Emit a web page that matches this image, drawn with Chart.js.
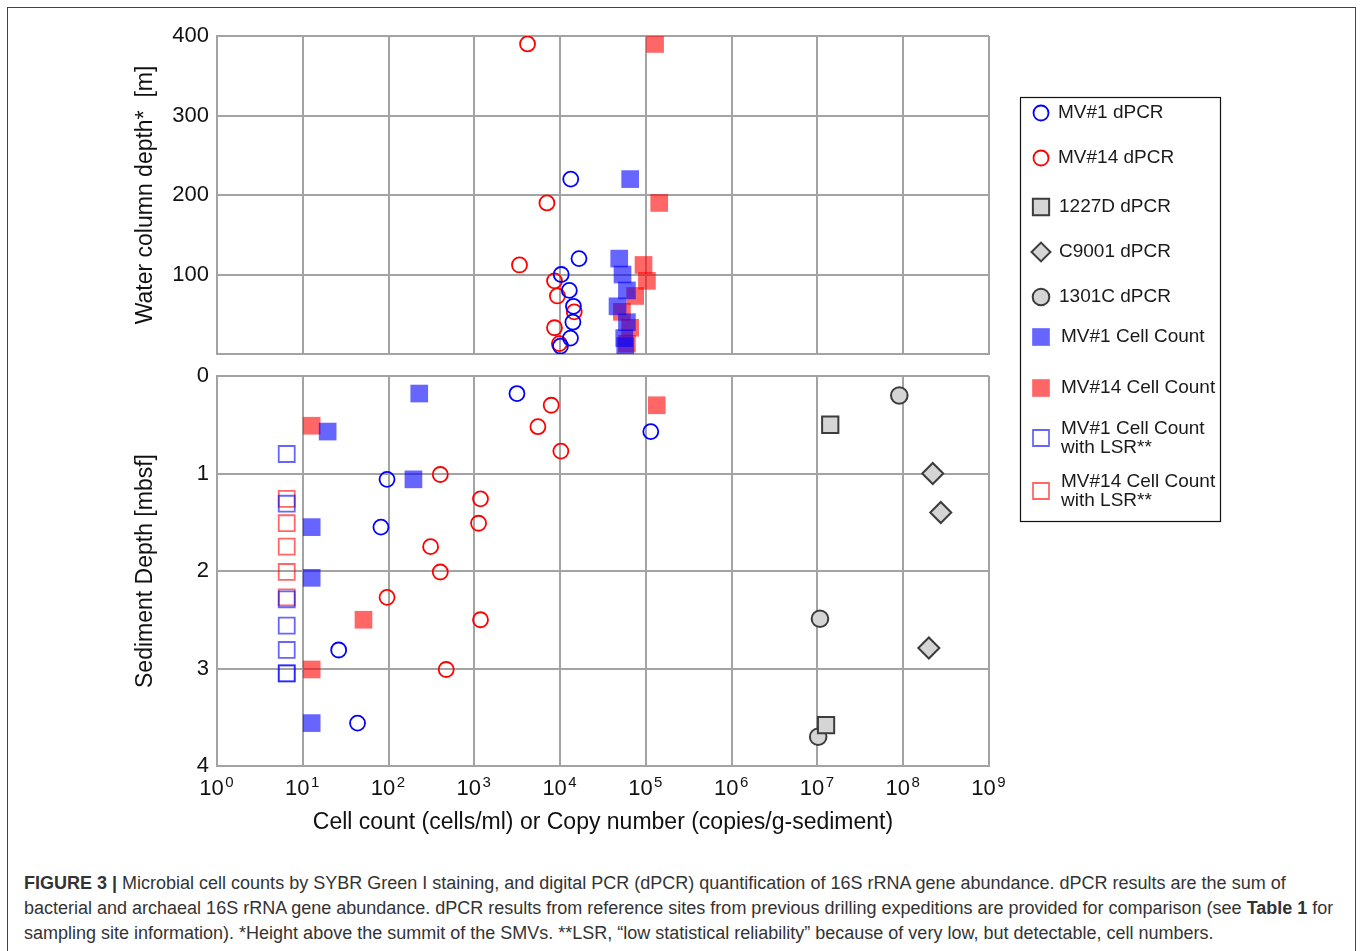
<!DOCTYPE html>
<html>
<head>
<meta charset="utf-8">
<script src="https://cdn.jsdelivr.net/npm/chart.js@4.4.1/dist/chart.umd.min.js"></script>
<style>
  body { margin: 0; background: #fff; width: 1360px; height: 951px; overflow: hidden; position: relative; font-family: "Liberation Sans", Arial, sans-serif; }
  #frame { position: absolute; left: 7px; top: 7px; width: 1349px; height: 1000px; border: 1px solid #444; box-sizing: border-box; }
  .wrap { position: absolute; left: 0; top: 0; width: 1360px; height: 860px; }
  #caption { position: absolute; left: 24px; top: 871px; font-family: "Liberation Sans", Arial, sans-serif; font-size: 18px; line-height: 25px; color: #333; white-space: nowrap; }
</style>
</head>
<body>
<div id="frame"></div>
<div class="wrap"><canvas id="waterChart"></canvas></div>
<div class="wrap"><canvas id="sedimentChart"></canvas></div>
<div id="caption">
<b>FIGURE 3 |</b> Microbial cell counts by SYBR Green I staining, and digital PCR (dPCR) quantification of 16S rRNA gene abundance. dPCR results are the sum of<br>
bacterial and archaeal 16S rRNA gene abundance. dPCR results from reference sites from previous drilling expeditions are provided for comparison (see <b>Table 1</b> for<br>
sampling site information). *Height above the summit of the SMVs. **LSR, “low statistical reliability” because of very low, but detectable, cell numbers.
</div>
<script>
// axis ticks
const xTicks = [1e0, 1e1, 1e2, 1e3, 1e4, 1e5, 1e6, 1e7, 1e8, 1e9];
const waterTicks = [0, 100, 200, 300, 400];
const sedimentTicks = [0, 1, 2, 3, 4];

// water column, depth in m (height above the summit)
const mv1WaterDepth = [220, 120, 100, 80, 60, 40, 20, 10];
const mv1WaterDpcr = [13300, 16600, 10300, 12800, 14300, 14100, 13200, 10100];
const mv1WaterCells = [65600, 48900, 53400, 60100, 46700, 60100, 55900, 57400];
const mv14WaterDepth = [390, 190, 112, 92, 73, 53, 33, 13];
const mv14WaterDpcr = [4170, 7020, 3360, 8600, 9300, 14600, 8600, 9800];
const mv14WaterCells = [128000, 143000, 93800, 102800, 75000, 52500, 65600, 60100];

// sediment, depth in mbsf
const mv1DpcrDepth = [0.18, 0.57, 1.06, 1.55, 2.81, 3.56];
const mv1Dpcr = [3140, 114000, 96, 81.5, 26.2, 43.5];
const mv14DpcrDepth = [0.30, 0.52, 0.77, 1.01, 1.26, 1.51, 1.75, 2.01, 2.27, 2.50, 3.01];
const mv14Dpcr = [7870, 5510, 10200, 401, 1180, 1120, 309, 401, 96, 1180, 470];
const site1227Depth = [0.50, 3.58];
const site1227Dpcr = [1.41e7, 1.26e7];
const siteC9001Depth = [1.00, 1.40, 2.79];
const siteC9001Dpcr = [2.21e8, 2.74e8, 1.99e8];
const site1301Depth = [0.20, 2.49, 3.70];
const site1301Dpcr = [9.0e7, 1.07e7, 1.02e7];
const mv1CellDepth = [0.18, 0.57, 1.06, 1.55, 2.07, 3.56];
const mv1Cells = [228, 19.5, 195, 12.7, 12.7, 12.7];
const mv14CellDepth = [0.30, 0.51, 2.50, 3.01];
const mv14Cells = [134000, 12.7, 51, 12.7];
const mv1LsrDepth = [0.80, 1.31, 2.29, 2.56, 2.81, 3.05, 3.05];
const mv1Lsr = [6.5, 6.5, 6.5, 6.5, 6.5, 6.5, 6.5];
const mv14LsrDepth = [1.26, 1.51, 1.75, 2.01, 2.27];
const mv14Lsr = [6.5, 6.5, 6.5, 6.5, 6.5];

const pts = (xs, ys) => xs.map((v, i) => ({ x: v, y: ys[i] }));

const gridColor = '#a3a3a3';
const fam = '"Liberation Sans", Arial, sans-serif';
const font = { family: fam, size: 22 };
const titleFont = { family: fam, size: 23 };

const styles = {
  mv1Dpcr: { label: 'MV#1 dPCR', pointStyle: 'circle', pointRadius: 7.5, borderWidth: 1.8, borderColor: '#0000ff', backgroundColor: 'rgba(0,0,0,0)' },
  mv14Dpcr: { label: 'MV#14 dPCR', pointStyle: 'circle', pointRadius: 7.5, borderWidth: 1.8, borderColor: '#ff0000', backgroundColor: 'rgba(0,0,0,0)' },
  s1227: { label: '1227D dPCR', pointStyle: 'rect', pointRadius: 11.5, borderWidth: 2, borderColor: '#3c3c3c', backgroundColor: '#d5d5d5' },
  c9001: { label: 'C9001 dPCR', pointStyle: 'rectRot', pointRadius: 10.5, borderWidth: 2, borderColor: '#3c3c3c', backgroundColor: '#d5d5d5' },
  s1301: { label: '1301C dPCR', pointStyle: 'circle', pointRadius: 8.3, borderWidth: 2, borderColor: '#3c3c3c', backgroundColor: '#d5d5d5' },
  mv1Cell: { label: 'MV#1 Cell Count', pointStyle: 'rect', pointRadius: 12.5, borderWidth: 0, borderColor: 'rgba(0,0,0,0)', backgroundColor: 'rgba(0,0,255,0.6)' },
  mv14Cell: { label: 'MV#14 Cell Count', pointStyle: 'rect', pointRadius: 12.5, borderWidth: 0, borderColor: 'rgba(0,0,0,0)', backgroundColor: 'rgba(255,0,0,0.6)' },
  mv1Lsr: { label: ['MV#1 Cell Count', 'with LSR**'], pointStyle: 'rect', pointRadius: 11.3, borderWidth: 1.8, borderColor: 'rgba(0,0,255,0.6)', backgroundColor: 'rgba(0,0,0,0)' },
  mv14Lsr: { label: ['MV#14 Cell Count', 'with LSR**'], pointStyle: 'rect', pointRadius: 11.3, borderWidth: 1.8, borderColor: 'rgba(255,0,0,0.6)', backgroundColor: 'rgba(0,0,0,0)' }
};

function ds(style, data) {
  return Object.assign({}, style, { data: data, pointHoverRadius: style.pointRadius });
}

// legend box on the right, drawn with Chart.js point helper
const legendRows = [113, 158, 207, 252, 297, 337, 388, 438, 491];
const boxLegend = {
  id: 'boxLegend',
  afterDraw(chart) {
    const ctx = chart.ctx;
    ctx.save();
    ctx.strokeStyle = '#111';
    ctx.lineWidth = 1.2;
    ctx.strokeRect(1020.5, 97.5, 200, 424);
    chart.data.datasets.forEach((d, i) => {
      const y = legendRows[i];
      const scale = d.pointStyle === 'rectRot' ? 0.9 : 1;
      ctx.fillStyle = d.backgroundColor;
      ctx.strokeStyle = d.borderColor;
      ctx.lineWidth = d.borderWidth;
      Chart.helpers.drawPoint(ctx, { pointStyle: d.pointStyle, radius: d.pointRadius * scale, rotation: 0, borderWidth: d.borderWidth }, 1041, y);
      ctx.fillStyle = '#1a1a1a';
      ctx.font = '19px ' + fam;
      ctx.textBaseline = 'middle';
      ctx.textAlign = 'left';
      const lines = Array.isArray(d.label) ? d.label : [d.label];
      const tx = i < 2 ? 1058 : (i < 5 ? 1059 : 1061);
      lines.forEach((t, k) => ctx.fillText(t, tx, y + (k - (lines.length - 1) / 2) * 19));
    });
    ctx.restore();
  }
};

// exponents for the "10" tick labels of the log axis
const baseLabel = '10\u2002';
const tickPadding = 10;
const powerLabels = {
  id: 'powerLabels',
  afterDraw(chart) {
    const sc = chart.scales.x;
    const ctx = chart.ctx;
    ctx.save();
    ctx.font = font.size + 'px ' + fam;
    const full = ctx.measureText(baseLabel).width;
    const ten = ctx.measureText('10').width;
    const yMid = sc.top + tickPadding + font.size * 1.2 / 2;
    ctx.font = '15px ' + fam;
    ctx.fillStyle = '#111';
    ctx.textAlign = 'left';
    ctx.textBaseline = 'middle';
    sc.ticks.forEach(t => {
      const px = sc.getPixelForValue(t.value);
      ctx.fillText(String(Math.round(Math.log10(t.value))), px - full / 2 + ten + 1.5, yMid - 6);
    });
    ctx.restore();
  }
};

function xScale(showTicks) {
  return {
    type: 'logarithmic',
    min: 1,
    max: 1e9,
    afterBuildTicks: s => { s.ticks = xTicks.map(v => ({ value: v })); },
    grid: { color: gridColor, lineWidth: 2, drawTicks: false },
    border: { color: gridColor, width: 2 },
    ticks: {
      display: showTicks,
      padding: tickPadding,
      maxRotation: 0,
      autoSkip: false,
      color: '#111',
      font: font,
      callback: () => baseLabel
    },
    title: {
      display: showTicks,
      text: 'Cell count (cells/ml) or Copy number (copies/g-sediment)',
      color: '#111',
      font: titleFont,
      padding: { top: 0, bottom: 0 }
    },
    afterFit: s => { s.height = showTicks ? 70 : 0; }
  };
}

function yScale(ticks, title, reverse) {
  return {
    min: ticks[0],
    max: ticks[ticks.length - 1],
    reverse: reverse,
    afterBuildTicks: s => { s.ticks = ticks.map(v => ({ value: v })); },
    grid: { color: gridColor, lineWidth: 2, drawTicks: false },
    border: { color: gridColor, width: 2 },
    ticks: {
      padding: 8,
      color: '#111',
      font: font,
      callback: v => (!reverse && v === 0) ? '' : String(v)
    },
    title: { display: true, text: title, color: '#111', font: titleFont, padding: { top: 132, bottom: 0 } },
    afterFit: s => { s.width = 217; }
  };
}

const common = {
  responsive: true,
  maintainAspectRatio: false,
  animation: false,
  events: [],
  plugins: { legend: { display: false }, tooltip: { enabled: false } }
};

new Chart(document.getElementById('waterChart').getContext('2d'), {
  type: 'scatter',
  data: {
    datasets: [
      ds(styles.mv1Dpcr, pts(mv1WaterDpcr, mv1WaterDepth)),
      ds(styles.mv14Dpcr, pts(mv14WaterDpcr, mv14WaterDepth)),
      ds(styles.mv1Cell, pts(mv1WaterCells, mv1WaterDepth)),
      ds(styles.mv14Cell, pts(mv14WaterCells, mv14WaterDepth))
    ]
  },
  options: Object.assign({}, common, {
    layout: { padding: { left: 0, right: 371, top: 36, bottom: 860 - 354 } },
    scales: {
      x: xScale(false),
      y: yScale(waterTicks, 'Water column depth*  [m]', false)
    }
  })
});

new Chart(document.getElementById('sedimentChart').getContext('2d'), {
  type: 'scatter',
  data: {
    datasets: [
      ds(styles.mv1Dpcr, pts(mv1Dpcr, mv1DpcrDepth)),
      ds(styles.mv14Dpcr, pts(mv14Dpcr, mv14DpcrDepth)),
      ds(styles.s1227, pts(site1227Dpcr, site1227Depth)),
      ds(styles.c9001, pts(siteC9001Dpcr, siteC9001Depth)),
      ds(styles.s1301, pts(site1301Dpcr, site1301Depth)),
      ds(styles.mv1Cell, pts(mv1Cells, mv1CellDepth)),
      ds(styles.mv14Cell, pts(mv14Cells, mv14CellDepth)),
      ds(styles.mv1Lsr, pts(mv1Lsr, mv1LsrDepth)),
      ds(styles.mv14Lsr, pts(mv14Lsr, mv14LsrDepth))
    ]
  },
  options: Object.assign({}, common, {
    layout: { padding: { left: 0, right: 371, top: 376, bottom: 24 } },
    scales: {
      x: xScale(true),
      y: yScale(sedimentTicks, 'Sediment Depth [mbsf]', true)
    }
  }),
  plugins: [boxLegend, powerLabels]
});
</script>
</body>
</html>
